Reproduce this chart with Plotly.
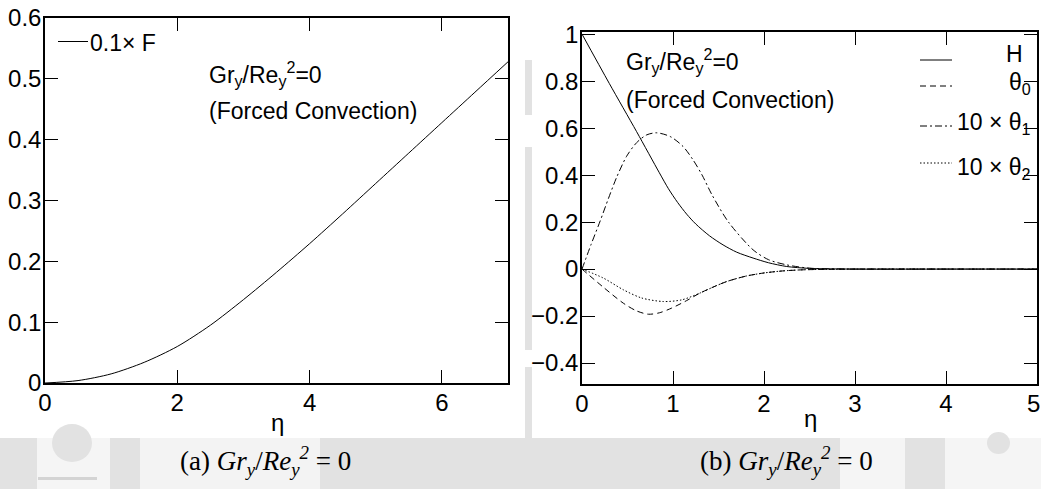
import plotly.graph_objects as go

W, H_PX = 1041, 489

# ---------------- data ----------------
eta_F = [0, 0.5, 1, 1.5, 2, 2.5, 3, 3.5, 4, 4.5, 5, 5.5, 6, 6.5, 7]
F01 = [0, 0.004, 0.015, 0.034, 0.060, 0.095, 0.137, 0.182, 0.229, 0.278, 0.328, 0.378, 0.428, 0.478, 0.528]

eta_H = [0, 0.3, 0.6, 0.85, 0.95, 1.05, 1.15, 1.25, 1.4, 1.55, 1.7, 1.88, 2.05, 2.25, 2.5, 3, 4, 5]
H_vals = [1.0, 0.79, 0.585, 0.41, 0.342, 0.284, 0.234, 0.192, 0.142, 0.103, 0.072, 0.047, 0.027, 0.011, 0.003, 0, 0, 0]

eta_t0 = [0, 0.234, 0.454, 0.6, 0.729, 0.85, 0.985, 1.15, 1.297, 1.45, 1.59, 1.8, 1.99, 2.2, 2.43, 3, 4, 5]
theta0 = [0, -0.077, -0.145, -0.178, -0.192, -0.186, -0.166, -0.134, -0.102, -0.075, -0.053, -0.030, -0.017, -0.008, -0.003, 0, 0, 0]

eta_t1 = [0, 0.1, 0.2, 0.29, 0.38, 0.49, 0.6, 0.71, 0.82, 0.97, 1.11, 1.22, 1.32, 1.43, 1.61, 1.88, 2.05, 2.25, 2.5, 3, 4, 5]
theta1x10 = [0, 0.105, 0.205, 0.3, 0.39, 0.48, 0.538, 0.571, 0.58, 0.564, 0.522, 0.465, 0.4, 0.315, 0.2, 0.082, 0.04, 0.018, 0.004, 0, 0, 0]

eta_t2 = [0, 0.234, 0.454, 0.656, 0.894, 1.095, 1.297, 1.45, 1.59, 1.8, 1.99, 2.2, 2.43, 3, 4, 5]
theta2x10 = [0, -0.038, -0.088, -0.123, -0.138, -0.131, -0.102, -0.075, -0.053, -0.030, -0.017, -0.008, -0.003, 0, 0, 0]

left_xticks = [0, 2, 4, 6]
right_xticks = [0, 1, 2, 3, 4, 5]
right_xticktext = ["0", "1", "2", "3", "4", "5\u00a0"]

# ---------------- helpers ----------------
def px(x):
    return x / W

def py(y):
    return 1 - y / H_PX

SANS = "Liberation Sans, Arial, sans-serif"
SERIF = "Liberation Serif, Times New Roman, serif"
FS_TICK = 24
FS = 23

fig = go.Figure()

line_style = dict(color="black", width=1, shape="spline", smoothing=0.8)

fig.add_trace(go.Scatter(x=eta_F, y=F01, mode="lines", line=line_style,
                         xaxis="x", yaxis="y", showlegend=False, name="0.1× F"))
fig.add_trace(go.Scatter(x=eta_H, y=H_vals, mode="lines", line=line_style,
                         xaxis="x2", yaxis="y2", showlegend=False, name="H"))
fig.add_trace(go.Scatter(x=eta_t0, y=theta0, mode="lines", line=dict(line_style, dash="6px,4px"),
                         xaxis="x2", yaxis="y2", showlegend=False, name="θ0"))
fig.add_trace(go.Scatter(x=eta_t1, y=theta1x10, mode="lines", line=dict(line_style, dash="7px,3px,2px,3px"),
                         xaxis="x2", yaxis="y2", showlegend=False, name="10×θ1"))
fig.add_trace(go.Scatter(x=eta_t2, y=theta2x10, mode="lines", line=dict(line_style, dash="1.5px,2px"),
                         xaxis="x2", yaxis="y2", showlegend=False, name="10×θ2"))

axis_common = dict(showgrid=False, zeroline=False, showline=True, linecolor="black",
                   linewidth=1.5, mirror="allticks", ticks="inside", ticklen=13,
                   tickwidth=1, tickcolor="black", ticklabeloverflow="allow",
                   automargin=False,
                   tickfont=dict(family=SANS, size=FS_TICK, color="black"))

fig.update_layout(
    template="none",
    width=W, height=H_PX,
    margin=dict(l=0, r=0, t=0, b=0, pad=0),
    paper_bgcolor="white", plot_bgcolor="white",
    xaxis=dict(axis_common, domain=[px(45), px(508)], range=[0, 7], tickvals=left_xticks,
               anchor="y", ticklabelstandoff=-3),
    yaxis=dict(axis_common, domain=[py(383), py(18)], range=[0, 0.6], dtick=0.1, anchor="x",
               ticklabelstandoff=-3),
    xaxis2=dict(axis_common, domain=[px(582), px(1037)], range=[0, 5], tickvals=right_xticks,
                ticktext=right_xticktext, anchor="y2", ticklabelstandoff=-3),
    yaxis2=dict(axis_common, domain=[py(384), py(32)], range=[-0.489, 1.009], dtick=0.2, anchor="x2",
                ticklabelstandoff=-3),
)

# ---------------- background (scan artefacts) ----------------
shapes = []
def rect(x0, y0, x1, y1, color):
    shapes.append(dict(type="rect", xref="paper", yref="paper", x0=px(x0), x1=px(x1),
                       y0=py(y1), y1=py(y0), fillcolor=color, line=dict(width=0), layer="below"))

GRAY = "#e2e2e2"
rect(0, 438, 1041, 489, GRAY)
rect(37, 438, 110, 489, "#f5f5f5")
rect(140, 438, 320, 489, "#f3f3f3")
rect(840, 438, 905, 489, "#f5f5f5")
rect(945, 438, 1041, 489, "#f5f5f5")
rect(525, 60, 532, 115, GRAY)
rect(525, 147, 532, 350, GRAY)
rect(525, 367, 532, 438, GRAY)
shapes.append(dict(type="circle", xref="paper", yref="paper", x0=px(52), x1=px(92),
                   y0=py(462), y1=py(424), fillcolor=GRAY, line=dict(width=0), layer="below"))
shapes.append(dict(type="circle", xref="paper", yref="paper", x0=px(987), x1=px(1010),
                   y0=py(454), y1=py(432), fillcolor=GRAY, line=dict(width=0), layer="below"))
rect(38, 477, 97, 480, "#d4d4d4")

# ---------------- legend samples ----------------
def seg(x0, x1, y, dash):
    shapes.append(dict(type="line", xref="paper", yref="paper", x0=px(x0), x1=px(x1),
                       y0=py(y), y1=py(y), line=dict(color="black", width=1, dash=dash)))

seg(58, 88, 41.5, "solid")
seg(920, 952, 60, "solid")
seg(920, 952, 86, "6px,4px")
seg(920, 952, 126, "7px,3px,2px,3px")
seg(920, 952, 163, "1.5px,2px")
fig.update_layout(shapes=shapes)

# ---------------- annotations ----------------
ann = []
def text(x, y, s, xanchor="left", font=SANS, size=FS):
    ann.append(dict(xref="paper", yref="paper", x=px(x), y=py(y), text=s, showarrow=False,
                    xanchor=xanchor, yanchor="middle", font=dict(family=font, size=size, color="black")))

# axis titles
text(277, 422, "η", xanchor="center", size=FS_TICK)
text(810, 418, "η", xanchor="center", size=FS_TICK)

text(88, 43, "0.1× F")
text(207, 74, "Gr<sub>y</sub>/Re<sub>y</sub><sup>2</sup>=0")
text(207, 111, "(Forced Convection)")
text(624, 61, "Gr<sub>y</sub>/Re<sub>y</sub><sup>2</sup>=0")
text(624, 100, "(Forced Convection)")

text(1025, 54, "H", xanchor="right")
text(1033, 83, "θ<sub>0</sub>", xanchor="right")
text(1033, 123, "10 × θ<sub>1</sub>", xanchor="right")
text(1033, 168, "10 × θ<sub>2</sub>", xanchor="right")

text(265, 461, "(a) <i>Gr<sub>y</sub></i>/<i>Re<sub>y</sub><sup>2</sup></i> = 0", xanchor="center", font=SERIF, size=27)
text(786, 461, "(b) <i>Gr<sub>y</sub></i>/<i>Re<sub>y</sub><sup>2</sup></i> = 0", xanchor="center", font=SERIF, size=27)

fig.update_layout(annotations=ann)

fig.write_html("out.html",
               post_script="document.body.style.margin='0';document.body.style.overflow='hidden';")
